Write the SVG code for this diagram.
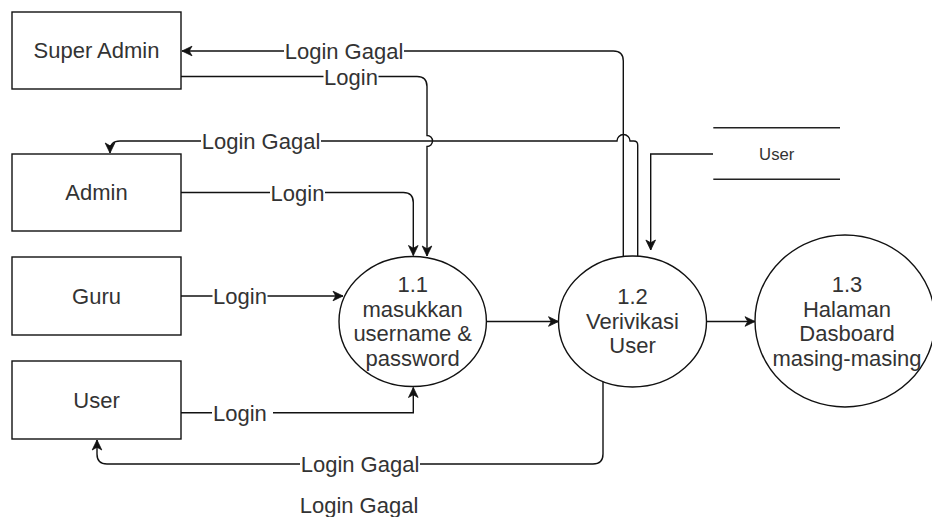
<svg xmlns="http://www.w3.org/2000/svg" width="932" height="517" viewBox="0 0 932 517">
  <style>
    .box { fill: #fff; stroke: #111; stroke-width: 1.4; }
    .proc { fill: #fff; stroke: #111; stroke-width: 1.4; }
    .store { stroke: #222; stroke-width: 1.4; fill: none; }
    .edge { fill: none; stroke: #111; stroke-width: 1.4; marker-end: url(#arrow); }
    .edge-plain { fill: none; stroke: #111; stroke-width: 1.4; }
    .lbl-bg { fill: #fff; }
    text { font-family: "Liberation Sans", Arial, sans-serif; font-size: 22px; fill: #333; text-anchor: middle; }
    .small { font-size: 16.7px; }
  </style>
  <defs>
    <marker id="arrow" viewBox="-11 -6 12 12" markerWidth="12" markerHeight="12" refX="0" refY="0" orient="auto" markerUnits="userSpaceOnUse">
      <path d="M0,0 L-10,-4.8 L-7.2,0 L-10,4.8 Z" fill="#111" stroke="#111" stroke-width="0.8" stroke-linejoin="miter"/>
    </marker>
  </defs>

  <!-- connectors -->
  <g id="connectors">
    <!-- 1.2 -> Super Admin : Login Gagal -->
    <path class="edge" d="M623.3,256.5 V61 Q623.3,51 613.3,51 H182"/>
    <!-- Super Admin -> 1.1 : Login (jumps over the Admin line) -->
    <path class="edge" d="M181,76.5 H417 Q427,76.5 427,86.5 V135.5 A5.5,5.5 0 0 1 427,146.5 V256"/>
    <!-- 1.2 -> Admin : Login Gagal (jumps over the Super Admin line) -->
    <path class="edge" d="M637.7,256 V145 Q637.7,141 633.7,141 H630 A6.5,6.5 0 0 0 617,141 H120 Q110,141 110,151 V153"/>
    <!-- Admin -> 1.1 : Login -->
    <path class="edge" d="M181,192.5 H403.3 Q413.3,192.5 413.3,202.5 V255.5"/>
    <!-- Guru -> 1.1 : Login -->
    <path class="edge" d="M181,296 H343"/>
    <!-- User -> 1.1 : Login -->
    <path class="edge" d="M181,412.7 H413.3 V387.5"/>
    <!-- 1.2 -> User : Login Gagal -->
    <path class="edge" d="M603,381.5 V454 Q603,464 593,464 H107 Q97,464 97,454 V440"/>
    <!-- 1.1 -> 1.2 -->
    <path class="edge" d="M486.5,321.5 H558.5"/>
    <!-- 1.2 -> 1.3 -->
    <path class="edge" d="M707,321.5 H755"/>
    <!-- data store User -> 1.2 -->
    <path class="edge" d="M713,154 H650.7 V250"/>

    <!-- edge labels -->
    <rect class="lbl-bg" x="284" y="40" width="120" height="22"/>
    <text x="344" y="59">Login Gagal</text>
    <rect class="lbl-bg" x="323.5" y="66" width="55" height="21"/>
    <text x="351" y="84.5">Login</text>
    <rect class="lbl-bg" x="201" y="130" width="120" height="22"/>
    <text x="261" y="149">Login Gagal</text>
    <rect class="lbl-bg" x="270" y="182" width="55" height="21"/>
    <text x="297.5" y="200.5">Login</text>
    <rect class="lbl-bg" x="212.5" y="285.5" width="55" height="21"/>
    <text x="240" y="304">Login</text>
    <rect class="lbl-bg" x="212" y="402" width="61" height="22"/>
    <text x="213" y="420.7" style="text-anchor:start">Login</text>
    <rect class="lbl-bg" x="300" y="453" width="120" height="22"/>
    <text x="360" y="472">Login Gagal</text>
  </g>

  <!-- external entities -->
  <g id="super-admin">
    <rect class="box" x="12" y="12" width="169" height="77"/>
    <text x="96.5" y="58">Super Admin</text>
  </g>
  <g id="admin">
    <rect class="box" x="12" y="154" width="169" height="77"/>
    <text x="96.5" y="200">Admin</text>
  </g>
  <g id="guru">
    <rect class="box" x="12" y="257" width="169" height="78"/>
    <text x="96.5" y="304">Guru</text>
  </g>
  <g id="user">
    <rect class="box" x="12" y="361" width="169" height="78"/>
    <text x="96.5" y="408">User</text>
  </g>

  <!-- processes -->
  <g id="p1-1">
    <ellipse class="proc" cx="412.7" cy="321.5" rx="73.7" ry="65"/>
    <text x="412.7" y="292">1.1</text>
    <text x="412.7" y="316.5">masukkan</text>
    <text x="412.7" y="341">username &amp;</text>
    <text x="412.7" y="365.5">password</text>
  </g>
  <g id="p1-2">
    <ellipse class="proc" cx="632.5" cy="321.5" rx="74" ry="65.5"/>
    <text x="632.5" y="304">1.2</text>
    <text x="632.5" y="328.5">Verivikasi</text>
    <text x="632.5" y="353">User</text>
  </g>
  <g id="p1-3">
    <ellipse class="proc" cx="845" cy="321" rx="90" ry="86"/>
    <text x="847" y="292">1.3</text>
    <text x="847" y="316.5">Halaman</text>
    <text x="847" y="341">Dasboard</text>
    <text x="847" y="365.5">masing-masing</text>
  </g>

  <!-- data store -->
  <g id="store-user">
    <line class="store" x1="713.3" y1="127.7" x2="840" y2="127.7"/>
    <line class="store" x1="713.3" y1="179.3" x2="840" y2="179.3"/>
    <text class="small" x="776.7" y="160.3">User</text>
  </g>

  <!-- loose label -->
  <text x="359" y="512.5">Login Gagal</text>
</svg>
